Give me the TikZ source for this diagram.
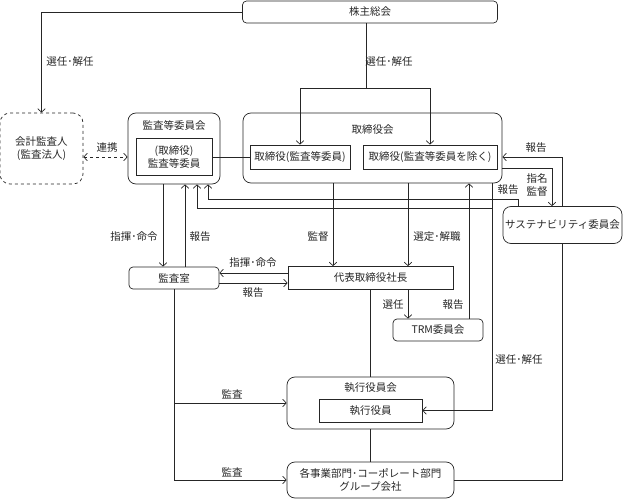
\documentclass[tikz,border=0pt]{standalone}
\usepackage{fontspec}
\newfontfamily\jp{Noto Sans CJK JP}
\usetikzlibrary{arrows.meta}

\begin{document}
\begin{tikzpicture}[
		x=1pt, y=-1pt,
		black!85, line width=0.7pt,
		>={Straight Barb[length=3.5pt,width=7.5pt]},
		every node/.style={rectangle, font=\jp\fontsize{10.5pt}{13pt}\selectfont, align=center, inner sep=1pt},
		group/.style={draw, rounded corners=8pt},
		unit/.style={draw, rounded corners=4pt},
		member/.style={draw}
	]
  \useasboundingbox (0,0) rectangle (624,500);
  \node (soukai) [unit, minimum width=255pt, minimum height=22pt] at (370, 12) {株主総会};
  \node (kaikei) [unit, dashed, rounded corners=10pt, minimum width=83pt, minimum height=71pt] at (41.5, 148.5) {会計監査人\\(監査法人)};
  \node (kansa_kai) [group, minimum width=92pt, minimum height=71pt] at (174, 148.5) {};
  \node (kansa_kai_t) at (174, 126) {監査等委員会};
  \node (kansa_iin) [member, minimum width=76pt, minimum height=37pt] at (174, 157) {(取締役)\\監査等委員};
  \node (tori_kai) [group, minimum width=259pt, minimum height=70pt] at (372.5, 148) {};
  \node (tori_kai_t) at (372.5, 130) {取締役会};
  \node (tori_kansa) [member, minimum width=100pt, minimum height=24pt] at (300, 157) {取締役(監査等委員)};
  \node (tori_other) [member, minimum width=134pt, minimum height=24pt] at (430, 157) {取締役(監査等委員を除く)};
  \node (sustain) [group, minimum width=119pt, minimum height=37pt] at (562.5, 225) {サステナビリティ委員会};
  \node (kansa_shitsu) [unit, minimum width=90pt, minimum height=22pt] at (174, 278) {監査室};
  \node (shachou) [member, minimum width=165pt, minimum height=23pt] at (370.5, 278) {代表取締役社長};
  \node (trm) [unit, minimum width=90pt, minimum height=22pt] at (438, 330) {TRM委員会};
  \node (shikkou_kai) [group, minimum width=167pt, minimum height=52pt] at (370.5, 403) {};
  \node (shikkou_kai_t) at (370.5, 388) {執行役員会};
  \node (shikkou) [member, minimum width=103pt, minimum height=23pt] at (370.5, 410.5) {執行役員};
  \node (jigyou) [group, minimum width=167pt, minimum height=36pt] at (370.5, 480) {各事業部門･コーポレート部門\\グループ会社};

  \node (sennin_1) at (70, 62) {選任･解任};
  \node (sennin_2) at (389, 62) {選任･解任};
  \node (renkei) at (107, 148) {連携};
  \node (houkoku_1) at (536, 148) {報告};
  \node (shimei) at (537, 185) {指名\\監督};
  \node (houkoku_2) at (508, 190) {報告};
  \node (shiki_1) at (134, 237) {指揮･命令};
  \node (houkoku_3) at (200, 237) {報告};
  \node (kantoku) at (318, 237) {監督};
  \node (sentei) at (437, 237) {選定･解職};
  \node (shiki_2) at (253, 263) {指揮･命令};
  \node (houkoku_4) at (253, 293) {報告};
  \node (sennin_3) at (393, 305) {選任};
  \node (houkoku_5) at (453, 305) {報告};
  \node (sennin_4) at (519, 360) {選任･解任};
  \node (kansa_1) at (232, 394) {監査};
  \node (kansa_2) at (232, 472) {監査};

  \coordinate (fork) at (366, 88);
  \coordinate (branch) at (492, 208);
  \draw [->] (soukai.west) -| (kaikei.north);
  \draw (soukai.south -| fork) -- (fork);
  \draw [->] (fork) -| (tori_kansa.north);
  \draw [->] (fork) -| (tori_other.north);
  \draw [<->, dashed] (kaikei.east |- kansa_iin) -- (kansa_kai.west |- kansa_iin);
  \draw (kansa_iin.east) -- (tori_kansa.west);
  \draw [->] (sustain.north) |- (tori_kai.east |- tori_other);
  \draw [->] (tori_kai.east |- 0,168) -| (sustain.north -| 552,0);
  \draw [->] (sustain.north -| 518,0) -- ++(0,-6.5) -| (kansa_kai.south -| 208,0);
  \draw [->] (tori_kai.south -| 492,0) |- (shikkou.east);
  \draw [->] (branch) -| (kansa_kai.south -| 197,0);
  \draw [->] (kansa_kai.south -| 163,0) -- (kansa_shitsu.north -| 163,0);
  \draw [->] (kansa_shitsu.north -| 185,0) -- (kansa_kai.south -| 185,0);
  \draw [->] (shachou.west |- 0,273) -- (kansa_shitsu.east |- 0,273);
  \draw [->] (kansa_shitsu.east |- 0,283) -- (shachou.west |- 0,283);
  \draw [->] (tori_kai.south -| 333,0) -- (shachou.north -| 333,0);
  \draw [->] (tori_kai.south -| 408,0) -- (shachou.north -| 408,0);
  \draw [->] (shachou.south -| 408,0) -- (trm.north -| 408,0);
  \draw [->] (trm.north -| 469,0) -- (tori_kai.south -| 469,0);
  \draw (shachou.south) -- (shikkou_kai.north);
  \draw (shikkou_kai.south) -- (jigyou.north);
  \draw [->] (kansa_shitsu.south) |- (shikkou_kai.west);
  \draw [->] (kansa_shitsu.south) |- (jigyou.west);
  \draw (jigyou.east) -| (sustain.south);
\end{tikzpicture}
\end{document}
